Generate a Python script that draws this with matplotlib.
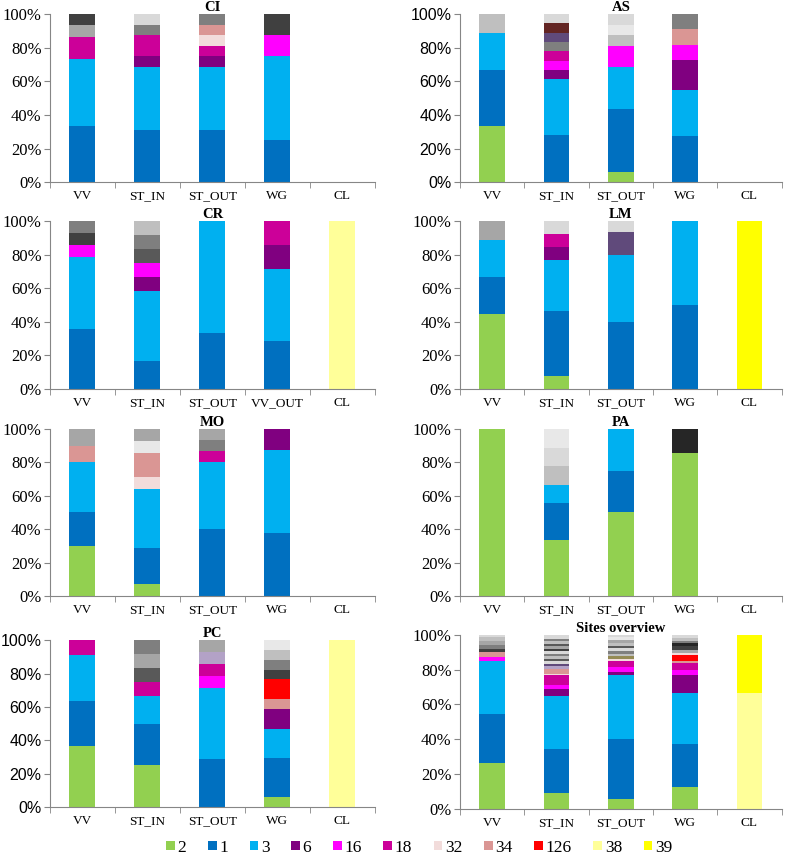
import matplotlib.pyplot as plt
from matplotlib.patches import Patch
from matplotlib.ticker import FixedLocator, PercentFormatter

plt.rcParams['font.family'] = ['Liberation Serif', 'DejaVu Serif']

legend_keys = ['2', '1', '3', '6', '16', '18', '32', '34', '126', '38', '39']

colors = {
    '2': '#92d050', '1': '#0070c0', '3': '#00b0f0', '6': '#800080',
    '16': '#ff00ff', '18': '#cc0099', '32': '#f2dcdb', '34': '#da9694',
    '126': '#ff0000', '38': '#ffff99', '39': '#ffff00',
    # unlisted groups, drawn in greys and muted tones
    'g1': '#262626', 'g2': '#404040', 'g3': '#595959', 'g4': '#7f7f7f',
    'g5': '#a6a6a6', 'g6': '#bfbfbf', 'g7': '#d9d9d9', 'g8': '#e8e8e8',
    'pg': '#604a7b', 'br': '#632523', 'lv': '#b3a2c7', 'kh': '#948a54',
}

sites = ['VV', 'ST_IN', 'ST_OUT', 'WG', 'CL']
sites_cr = ['VV', 'ST_IN', 'ST_OUT', 'VV_OUT', 'CL']

# each bar: list of (group, count) from bottom to top; normalised to 100 %
CI = {
    'VV': [('1', 5), ('3', 6), ('18', 2), ('g5', 1), ('g2', 1)],
    'ST_IN': [('1', 5), ('3', 6), ('6', 1), ('18', 2), ('g4', 1), ('g7', 1)],
    'ST_OUT': [('1', 5), ('3', 6), ('6', 1), ('18', 1), ('32', 1), ('34', 1), ('g4', 1)],
    'WG': [('1', 2), ('3', 4), ('16', 1), ('g2', 1)],
    'CL': [],
}
AS = {
    'VV': [('2', 3), ('1', 3), ('3', 2), ('g6', 1)],
    'ST_IN': [('1', 5), ('3', 6), ('6', 1), ('16', 1), ('18', 1), ('g4', 1),
              ('pg', 1), ('br', 1), ('g7', 1)],
    'ST_OUT': [('2', 1), ('1', 6), ('3', 4), ('16', 2), ('g6', 1), ('g8', 1), ('g7', 1)],
    'WG': [('1', 3), ('3', 3), ('6', 2), ('16', 1), ('34', 1), ('g4', 1)],
    'CL': [],
}
CR = {
    'VV': [('1', 5), ('3', 6), ('16', 1), ('g2', 1), ('g4', 1)],
    'ST_IN': [('1', 2), ('3', 5), ('6', 1), ('16', 1), ('g3', 1), ('g4', 1), ('g6', 1)],
    'ST_OUT': [('1', 1), ('3', 2)],
    'VV_OUT': [('1', 2), ('3', 3), ('6', 1), ('18', 1)],
    'CL': [('38', 1)],
}
LM = {
    'VV': [('2', 4), ('1', 2), ('3', 2), ('g5', 1)],
    'ST_IN': [('2', 1), ('1', 5), ('3', 4), ('6', 1), ('18', 1), ('g7', 1)],
    'ST_OUT': [('1', 6), ('3', 6), ('pg', 2), ('g7', 1)],
    'WG': [('1', 1), ('3', 1)],
    'CL': [('39', 1)],
}
MO = {
    'VV': [('2', 3), ('1', 2), ('3', 3), ('34', 1), ('g5', 1)],
    'ST_IN': [('2', 1), ('1', 3), ('3', 5), ('32', 1), ('34', 2), ('g8', 1), ('g5', 1)],
    'ST_OUT': [('1', 6), ('3', 6), ('18', 1), ('g4', 1), ('g5', 1)],
    'WG': [('1', 3), ('3', 4), ('6', 1)],
    'CL': [],
}
PA = {
    'VV': [('2', 1)],
    'ST_IN': [('2', 3), ('1', 2), ('3', 1), ('g6', 1), ('g7', 1), ('g8', 1)],
    'ST_OUT': [('2', 2), ('1', 1), ('3', 1)],
    'WG': [('2', 6), ('g1', 1)],
    'CL': [],
}
PC = {
    'VV': [('2', 4), ('1', 3), ('3', 3), ('18', 1)],
    'ST_IN': [('2', 3), ('1', 3), ('3', 2), ('18', 1), ('g3', 1), ('g5', 1), ('g4', 1)],
    'ST_OUT': [('1', 4), ('3', 6), ('16', 1), ('18', 1), ('lv', 1), ('g5', 1)],
    'WG': [('2', 1), ('1', 4), ('3', 3), ('6', 2), ('34', 1), ('126', 2), ('g2', 1),
           ('g4', 1), ('g6', 1), ('g8', 1)],
    'CL': [('38', 1)],
}
OVERVIEW = {
    'VV': [('2', 26.6), ('1', 28.0), ('3', 30.1), ('16', 2.8), ('34', 2.5), ('g2', 1.7),
           ('g4', 2.5), ('g5', 2.5), ('g6', 1.8), ('g7', 1.5)],
    'ST_IN': [('2', 9.0), ('1', 26.2), ('3', 30.9), ('6', 4.2), ('16', 2.3), ('18', 5.4),
              ('32', 0.9), ('34', 2.9), ('lv', 1.9), ('pg', 1.0), ('g7', 1.6), ('g3', 1.4),
              ('g6', 1.6), ('g4', 1.4), ('g7', 1.6), ('g2', 1.2), ('g5', 1.6), ('g3', 1.2),
              ('g6', 1.6), ('g4', 1.2), ('g7', 2.6)],
    'ST_OUT': [('2', 5.7), ('1', 34.5), ('3', 36.8), ('6', 1.4), ('16', 3.4), ('18', 3.4),
               ('32', 1.0), ('kh', 1.4), ('g6', 1.6), ('g4', 1.6), ('g7', 1.4), ('g3', 1.6),
               ('g6', 1.6), ('g5', 1.6), ('g8', 2.0), ('g7', 1.0)],
    'WG': [('2', 12.3), ('1', 24.9), ('3', 29.3), ('6', 10.5), ('16', 2.9), ('18', 3.8),
           ('34', 1.5), ('126', 3.3), ('32', 1.0), ('g5', 2.0), ('g2', 2.0), ('g1', 1.6),
           ('g4', 1.6), ('g6', 1.4), ('g7', 1.9)],
    'CL': [('38', 2), ('39', 1)],
}

panels = [
    ('CI', CI, sites, 'serif'), ('AS', AS, sites, 'sans'),
    ('CR', CR, sites_cr, 'serif'), ('LM', LM, sites, 'serif'),
    ('MO', MO, sites, 'serif'), ('PA', PA, sites, 'serif'),
    ('PC', PC, sites, 'sans'), ('Sites overview', OVERVIEW, sites, 'serif'),
]

# axes boxes in figure fractions [left, bottom, width, height]
boxes = [
    [0.0625, 0.787, 0.406, 0.1965], [0.575, 0.787, 0.402, 0.1965],
    [0.0625, 0.545, 0.406, 0.1965], [0.575, 0.545, 0.402, 0.1965],
    [0.0625, 0.303, 0.406, 0.1953], [0.575, 0.303, 0.402, 0.1953],
    [0.0625, 0.056, 0.406, 0.1953], [0.575, 0.054, 0.402, 0.2035],
]

fig = plt.figure(figsize=(8, 8.55), dpi=100)
axis_grey = '#868686'
bar_w = 0.4

for (title, data, labels, yfont), box in zip(panels, boxes):
    ax = fig.add_axes(box)
    for i, site in enumerate(labels):
        segs = data[site]
        total = sum(v for _, v in segs)
        bottom = 0.0
        for key, v in segs:
            h = 100.0 * v / total
            ax.bar(i, h, bar_w, bottom=bottom, color=colors[key], linewidth=0)
            bottom += h
    ax.set_xlim(-0.5, len(labels) - 0.5)
    ax.set_ylim(0, 100)
    ax.set_yticks(range(0, 101, 20))
    ax.yaxis.set_major_formatter(PercentFormatter(decimals=0))
    ax.set_xticks(range(len(labels)))
    ax.set_xticklabels(labels, fontsize=9.5)
    ax.xaxis.set_minor_locator(FixedLocator([k - 0.5 for k in range(len(labels) + 1)]))
    ax.tick_params(axis='x', which='major', length=0, pad=6)
    ax.tick_params(axis='x', which='minor', length=4, color=axis_grey)
    ax.tick_params(axis='y', length=4, color=axis_grey, labelsize=12, pad=2)
    if yfont == 'sans':
        for t in ax.get_yticklabels():
            t.set_family(['Liberation Sans', 'DejaVu Sans'])
            t.set_fontsize(11.5)
    for s in ['top', 'right']:
        ax.spines[s].set_visible(False)
    for s in ['left', 'bottom']:
        ax.spines[s].set_color(axis_grey)
        ax.spines[s].set_linewidth(0.8)
    ax.set_title(title, fontsize=10.5, fontweight='bold', pad=1)

handles = [Patch(facecolor=colors[k], edgecolor='none', label=k) for k in legend_keys]
fig.legend(handles=handles, loc='lower center', bbox_to_anchor=(0.524, -0.019), ncol=11,
           frameon=False, fontsize=12.5, handlelength=0.5, handleheight=0.5,
           handletextpad=0.15, columnspacing=1.25)

fig.savefig('out.png', dpi=100)
